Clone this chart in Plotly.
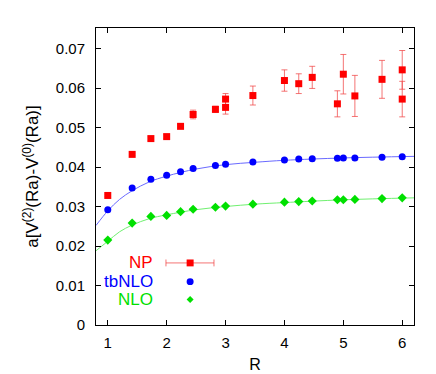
import plotly.graph_objects as go

# data ===========================
r_np = [1.0, 1.414, 1.732, 2.0, 2.236, 2.449, 2.828, 3.0, 3.0, 3.464,
        4.0, 4.243, 4.472, 4.899, 5.0, 5.196, 5.657, 6.0, 6.0]
v_np = [0.0328, 0.0432, 0.0472, 0.0477, 0.0503, 0.0533, 0.0546, 0.0551, 0.0572, 0.0581,
        0.0619, 0.0611, 0.0627, 0.0560, 0.0635, 0.0580, 0.0622, 0.0646, 0.0572]
e_np = [0.0003, 0.0003, 0.0005, 0.0005, 0.0004, 0.0011, 0.0008, 0.0017, 0.0014, 0.0024,
        0.0027, 0.0025, 0.0028, 0.0033, 0.0050, 0.0052, 0.0048, 0.0049, 0.0045]

r_pt = [1.0, 1.414, 1.732, 2.0, 2.236, 2.449, 2.828, 3.0, 3.464,
        4.0, 4.243, 4.472, 4.899, 5.0, 5.196, 5.657, 6.0]
v_tb = [0.0292, 0.0347, 0.0369, 0.0379, 0.0388, 0.0396, 0.0404, 0.0407, 0.04125,
        0.0418, 0.0420, 0.04208, 0.04225, 0.0423, 0.0423, 0.0425, 0.04258]
v_nlo = [0.0215, 0.0258, 0.0275, 0.02775, 0.0287, 0.0293, 0.0298, 0.0301, 0.0306,
         0.0311, 0.03125, 0.0314, 0.0317, 0.0317, 0.0318, 0.0320, 0.0322]

# fit curves
r_fit = [0.8, 1.0, 1.2, 1.414, 1.7, 2.0, 2.5, 3.0, 3.5, 4.0, 5.0, 6.2]
f_tb = [0.0252, 0.0289, 0.0318, 0.0340, 0.0362, 0.0377, 0.0395, 0.0406, 0.0412, 0.0417, 0.0423, 0.0427]
f_nlo = [0.0188, 0.0212, 0.0236, 0.0253, 0.0269, 0.0279, 0.0292, 0.0300, 0.0306, 0.0310, 0.0317, 0.0322]

BLUE = "#0000ff"
GREEN = "#00e000"
RED = "#ff0000"

fig = go.Figure()
fig.add_trace(go.Scatter(x=r_fit, y=f_tb, mode="lines", line=dict(color="#6a6aff", width=1, shape="spline")))
fig.add_trace(go.Scatter(x=r_fit, y=f_nlo, mode="lines", line=dict(color="#70f070", width=1, shape="spline")))
fig.add_trace(go.Scatter(x=r_np, y=v_np, mode="markers",
                         marker=dict(symbol="square", size=7, color=RED),
                         error_y=dict(type="data", array=e_np, color="rgba(240,70,70,0.75)",
                                      thickness=1, width=3)))
fig.add_trace(go.Scatter(x=r_pt, y=v_tb, mode="markers", marker=dict(symbol="circle", size=7, color=BLUE)))
fig.add_trace(go.Scatter(x=r_pt, y=v_nlo, mode="markers", marker=dict(symbol="diamond", size=7, color=GREEN)))

# hand-made legend: text on the left, key on the right ====
leg = [("NP", RED, 0.209), ("tbNLO", BLUE, 0.146), ("NLO", GREEN, 0.086)]
kx = 0.296
for name, col, yy in leg:
    fig.add_annotation(x=0.186, y=yy, xref="paper", yref="paper", text=name, showarrow=False,
                       xanchor="right", yanchor="middle", font=dict(size=17, color=col))
dx, dy = 3.5 / 318, 3.5 / 302
fig.add_shape(type="line", xref="paper", yref="paper", x0=0.22, x1=0.371, y0=0.209, y1=0.209,
              line=dict(color="rgba(240,70,70,0.75)", width=1))
for xe in (0.22, 0.371):
    fig.add_shape(type="line", xref="paper", yref="paper", x0=xe, x1=xe, y0=0.209 - dy, y1=0.209 + dy,
                  line=dict(color="rgba(240,70,70,0.75)", width=1))
fig.add_shape(type="rect", xref="paper", yref="paper", x0=kx - dx, x1=kx + dx, y0=0.209 - dy, y1=0.209 + dy,
              fillcolor=RED, line_width=0)
fig.add_shape(type="circle", xref="paper", yref="paper", x0=kx - dx, x1=kx + dx, y0=0.146 - dy, y1=0.146 + dy,
              fillcolor=BLUE, line_width=0)
fig.add_shape(type="path", xref="paper", yref="paper",
              path=f"M {kx - dx} 0.086 L {kx} {0.086 + dy} L {kx + dx} 0.086 L {kx} {0.086 - dy} Z",
              fillcolor=GREEN, line_width=0)

ax = dict(showline=True, linecolor="black", linewidth=1, mirror="allticks", ticks="inside",
          ticklen=5, tickcolor="black", showgrid=False, zeroline=False,
          tickfont=dict(size=15, color="black"))
fig.update_xaxes(range=[0.8, 6.2], tickvals=[1, 2, 3, 4, 5, 6], ticklabelstandoff=4,
                 title=dict(text="R", font=dict(size=16, color="black"), standoff=8), **ax)
fig.update_yaxes(range=[0, 0.0752], tickvals=[0, 0.01, 0.02, 0.03, 0.04, 0.05, 0.06, 0.07],
                 ticktext=["0", "0.01", "0.02", "0.03", "0.04", "0.05", "0.06", "0.07"],
                 ticklabelstandoff=7,
                 title=dict(text="a[V<sup>(2)</sup>(Ra)-V<sup>(0)</sup>(Ra)]",
                            font=dict(size=17, color="black"), standoff=12), **ax)
fig.update_layout(width=436, height=374, showlegend=False, plot_bgcolor="white", paper_bgcolor="white",
                  font=dict(family="Liberation Sans, Arial, sans-serif"),
                  margin=dict(l=88, r=30, t=20, b=52))
fig.write_html("out.html")
